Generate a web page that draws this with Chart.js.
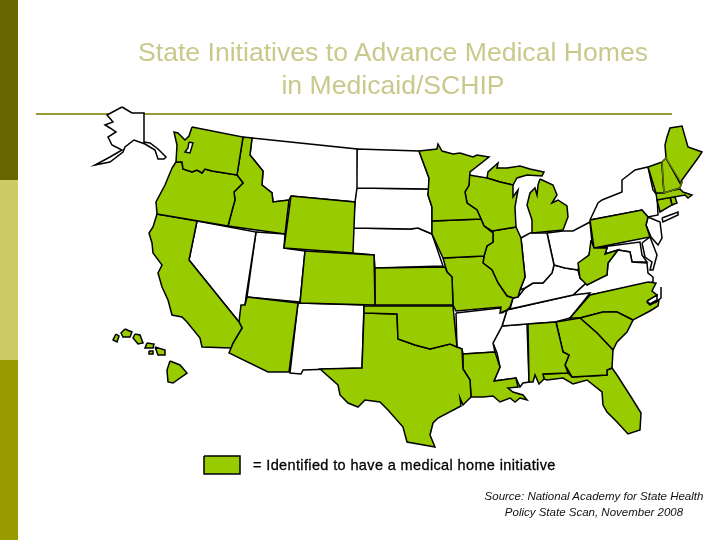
<!DOCTYPE html>
<html><head><meta charset="utf-8">
<script src="https://cdn.jsdelivr.net/npm/chart.js@4"></script>
<style>
html,body{margin:0;padding:0;background:#fff;width:720px;height:540px;overflow:hidden}
#wrap{position:relative;width:720px;height:540px}
canvas{position:absolute;left:0;top:0}
.t{position:absolute;white-space:nowrap;font-family:"Liberation Sans",Arial,sans-serif}
#side1,#side2,#side3{position:absolute;left:0;width:18px;height:180px}
</style></head><body>
<div id="wrap">
<canvas id="c" width="720" height="540"></canvas>
<div id="side1" style="top:0;background:#666600"></div>
<div id="side2" style="top:180px;background:#CCCC66"></div>
<div id="side3" style="top:360px;background:#999900"></div>
<div class="t" style="left:93px;width:600px;text-align:center;top:36px;font-size:26.6px;line-height:33px;color:#C9C98C">State Initiatives to Advance Medical Homes<br>in Medicaid/SCHIP</div>
<div class="t" style="left:253px;top:457px;font-size:14.5px;letter-spacing:0.37px;line-height:16px;color:#000;-webkit-text-stroke:0.3px #000">= Identified to have a medical home initiative</div>
<div class="t" style="left:444px;width:300px;text-align:center;top:489px;font-size:11.5px;line-height:15.5px;font-style:italic;color:#111">Source: National Academy for State Health<br>Policy State Scan, November 2008</div>
</div>
<script>
const headerRule=[[36,114],[672,114]];
const legendSwatch=[[204,456],[240,456],[240,474],[204,474]];
const AK=[[122,107],[132,113],[144,113],[144,142],[150,143],[158,149],[166,157],[164,159],[158,159],[155,150],[145,144],[134,140],[125,147],[123,152],[110,162],[95,165],[110,157],[122,150],[112,145],[108,137],[116,132],[110,128],[105,125],[113,122],[107,115]];
const WA=[[192,127],[243,137],[237,175],[212,171],[205,169],[202,173],[197,170],[192,172],[183,169],[182,162],[176,162],[177,145],[174,132],[178,133],[185,140],[189,136]];
const PugetSound=[[189,142],[193,143],[190,153],[185,152],[188,148]];
const OR=[[176,162],[182,162],[183,169],[192,172],[197,170],[202,173],[205,169],[212,171],[237,175],[243,183],[234,192],[235,200],[233,207],[228,226],[157,214],[156,202],[165,185],[172,168]];
const ID=[[243,137],[252,138],[250,155],[263,171],[262,185],[272,193],[273,202],[289,200],[285,234],[228,226],[233,207],[235,200],[234,192],[243,183],[237,175]];
const MT=[[252,138],[357,149],[357,188],[355,202],[291,196],[289,200],[273,202],[272,193],[262,185],[263,171],[250,155]];
const WY=[[291,196],[355,202],[353,253],[284,248]];
const NV=[[197,221],[256,232],[246,297],[245,305],[239,322],[189,260]];
const CA=[[157,214],[197,221],[189,260],[239,322],[242,328],[233,343],[231,348],[202,347],[200,338],[187,322],[182,317],[172,315],[168,300],[162,287],[158,273],[162,265],[153,253],[152,243],[149,233],[153,227]];
const UT=[[256,232],[285,234],[284,248],[305,251],[300,302],[247,297]];
const CO=[[305,251],[374,255],[375,305],[300,303]];
const AZ=[[247,297],[298,303],[289,372],[268,372],[229,353],[233,343],[242,328],[239,322],[241,305],[245,305]];
const NM=[[298,303],[364,305],[362,368],[303,370],[301,374],[290,373]];
const ND=[[357,149],[419,151],[429,178],[429,189],[356,188]];
const SD=[[356,188],[429,189],[428,195],[432,207],[432,234],[418,228],[410,229],[353,228]];
const NE=[[353,228],[410,229],[418,228],[432,234],[443,266],[375,268],[374,255],[352,253]];
const KS=[[375,268],[445,267],[447,272],[452,277],[453,305],[375,305]];
const OK=[[364,306],[453,306],[457,347],[450,344],[430,349],[415,345],[398,339],[397,314],[364,313]];
const TX=[[364,313],[397,314],[398,339],[415,345],[430,349],[450,344],[462,349],[463,369],[470,380],[471,397],[463,405],[460,398],[461,406],[438,418],[433,423],[430,435],[435,447],[407,442],[403,427],[388,410],[380,402],[365,400],[358,407],[348,403],[340,395],[338,385],[320,369],[362,368]];
const MN=[[419,151],[437,149],[438,144],[442,151],[453,154],[460,153],[473,157],[477,155],[489,157],[470,172],[469,185],[465,192],[467,203],[477,210],[481,219],[432,221],[432,207],[428,195],[429,178]];
const IA=[[432,221],[481,219],[484,226],[493,233],[493,242],[487,246],[484,256],[443,258],[432,234]];
const MO=[[443,258],[484,256],[483,263],[492,270],[498,283],[507,296],[513,298],[510,307],[507,310],[500,313],[501,307],[456,311],[453,305],[452,277],[447,272]];
const AR=[[456,313],[500,308],[502,313],[507,310],[502,326],[493,343],[495,352],[463,354],[462,349],[457,347]];
const LA=[[463,354],[495,352],[500,367],[494,381],[516,378],[518,387],[508,388],[513,392],[523,395],[527,400],[520,398],[515,402],[510,398],[500,402],[493,396],[483,397],[471,397],[470,380],[463,369]];
const WI=[[469,175],[487,178],[500,182],[513,185],[513,197],[518,190],[515,207],[516,227],[492,231],[484,226],[481,219],[477,210],[467,203],[465,192],[469,185]];
const IL=[[492,231],[516,227],[521,238],[525,277],[520,290],[518,297],[513,298],[507,296],[498,283],[492,270],[483,263],[484,256],[487,246],[493,242],[493,233]];
const MI_UP=[[487,178],[488,172],[498,163],[497,168],[507,168],[520,166],[530,169],[544,172],[542,176],[527,175],[517,178],[513,185],[500,182]];
const MI_LP=[[540,179],[553,185],[557,195],[552,203],[558,200],[567,206],[568,217],[563,230],[532,233],[532,220],[527,205],[530,193],[535,188],[537,195],[538,185]];
const IN=[[521,238],[530,233],[547,233],[554,265],[552,273],[543,283],[533,283],[525,288],[520,290],[525,277]];
const OH=[[547,233],[563,231],[573,231],[590,222],[592,243],[589,255],[580,263],[578,270],[565,268],[554,265]];
const KY=[[525,288],[533,283],[543,283],[552,273],[554,265],[565,268],[578,270],[580,278],[586,283],[573,295],[510,309],[513,298],[518,297]];
const TN=[[507,310],[573,295],[590,293],[583,302],[570,318],[555,322],[527,324],[502,326]];
const MS=[[502,326],[527,324],[529,382],[523,383],[520,387],[516,378],[494,381],[500,367],[497,353],[493,343]];
const AL=[[528,324],[556,322],[563,352],[569,355],[565,365],[568,373],[543,374],[544,379],[539,384],[535,375],[533,382],[529,382]];
const GA=[[556,322],[580,318],[597,333],[613,350],[612,368],[607,370],[607,375],[572,377],[565,365],[569,355],[563,352]];
const FL=[[543,374],[568,373],[572,377],[607,375],[607,370],[612,368],[617,375],[633,400],[641,413],[640,430],[628,434],[617,422],[607,412],[603,405],[602,392],[587,380],[573,384],[563,378],[547,380],[544,379]];
const SC=[[580,318],[603,312],[617,312],[633,320],[627,332],[617,342],[613,350],[597,333]];
const NC=[[590,295],[648,282],[656,283],[652,291],[657,295],[647,302],[650,305],[659,300],[658,306],[650,311],[633,320],[617,312],[603,312],[580,318],[570,318],[577,310]];
const PamlicoSound=[[647,301],[657,295],[657,300],[650,304]];
const OuterBanks=[[661,287],[661,298],[655,303]];
const VA=[[618,250],[630,252],[632,262],[647,263],[648,273],[653,277],[653,282],[590,295],[573,295],[586,283],[607,275],[608,263]];
const WV=[[591,240],[594,248],[607,248],[605,254],[618,250],[608,263],[607,275],[587,285],[580,278],[578,263],[589,255]];
const MD=[[594,248],[640,242],[642,255],[647,262],[632,262],[630,252],[618,250],[605,254],[607,248]];
const Delmarva=[[642,243],[650,237],[657,255],[653,270],[650,270],[652,262],[645,257]];
const PA=[[590,220],[642,210],[648,217],[646,225],[650,237],[594,248]];
const NY=[[590,220],[598,203],[602,200],[622,192],[622,180],[635,170],[648,167],[653,190],[657,195],[658,215],[648,217],[642,210]];
const LongIsland=[[662,218],[678,212],[678,215],[663,222]];
const NJ=[[648,217],[660,222],[662,238],[658,245],[651,237],[646,225]];
const ME=[[667,137],[670,128],[682,126],[688,147],[702,152],[698,158],[682,180],[680,183],[666,158],[665,145]];
const NH=[[662,162],[666,158],[682,182],[680,188],[664,193],[663,180]];
const VT=[[648,167],[662,162],[663,180],[664,193],[656,193]];
const MA=[[656,193],[680,189],[683,192],[692,195],[688,198],[685,195],[657,200]];
const CT=[[657,200],[670,197],[672,205],[660,212]];
const RI=[[670,197],[675,197],[677,203],[672,205]];
const NewEnglandBorder1=[[662,162],[666,158],[681,182]];
const NewEnglandBorder2=[[662,162],[663,180],[664,193],[680,188],[682,182]];
const HI_Big=[[170,361],[180,365],[187,373],[173,383],[168,382],[167,370]];
const HI_Maui=[[155,347],[165,350],[165,355],[158,355]];
const HI_Kahoolawe=[[149,351],[153,351],[153,354],[149,354]];
const HI_Molokai=[[147,343],[154,344],[153,348],[145,348]];
const HI_Oahu=[[135,334],[140,335],[143,343],[138,344],[133,338]];
const HI_Kauai=[[125,329],[132,332],[130,337],[123,337],[121,333]];
const HI_Niihau=[[116,334],[119,336],[117,342],[113,340]];

const GREEN='#99CC00', WHITE='#FFFFFF', BLACK='#000000';
const whiteShapes=[AK,NV,UT,MT,ND,SD,NE,NM,AR,IN,OH,KY,TN,MS,NY,NJ,VA,MD,Delmarva,LongIsland];
const greenShapes=[WA,OR,ID,WY,CA,CO,AZ,KS,OK,TX,MN,IA,MO,LA,WI,IL,MI_UP,MI_LP,AL,GA,FL,SC,NC,WV,PA,ME,NH,VT,MA,CT,RI,HI_Big,HI_Maui,HI_Kahoolawe,HI_Molokai,HI_Oahu,HI_Kauai,HI_Niihau,legendSwatch];
const toPts=a=>a.map(p=>({x:p[0],y:p[1]}));
const closed=a=>toPts(a.concat([a[0]]));
const poly=(a,c)=>({data:closed(a),showLine:true,pointRadius:0,borderWidth:1.5,borderColor:BLACK,backgroundColor:c,fill:'shape',tension:0});
const seg=(a,c,w)=>({data:toPts(a),showLine:true,pointRadius:0,borderWidth:w,borderColor:c,fill:false,tension:0});
const datasets=[
  seg(NewEnglandBorder1,'#6B7A10',1.2),
  seg(NewEnglandBorder2,'#6B7A10',1.2),
  poly(PugetSound,WHITE),
  poly(PamlicoSound,WHITE),
  seg(OuterBanks,BLACK,1.5),
  ...greenShapes.map(s=>poly(s,GREEN)),
  ...whiteShapes.map(s=>poly(s,WHITE)),
  seg(headerRule,'#999933',2)
];
new Chart(document.getElementById('c'),{
  type:'scatter',
  data:{datasets},
  options:{
    responsive:false,animation:false,devicePixelRatio:1,
    layout:{padding:0},
    plugins:{legend:{display:false},tooltip:{enabled:false},title:{display:false}},
    scales:{
      x:{type:'linear',min:0,max:720,display:false},
      y:{type:'linear',min:0,max:540,reverse:true,display:false}
    }
  }
});
</script>
</body></html>
